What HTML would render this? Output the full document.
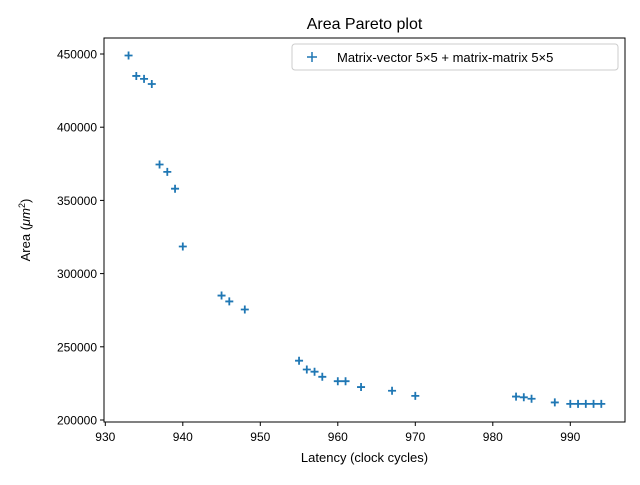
<!DOCTYPE html>
<html><head><meta charset="utf-8"><style>
body{margin:0;background:#fff;}
svg{font-family:"Liberation Sans","DejaVu Sans",sans-serif;}
</style></head><body>
<svg id="chart" width="640" height="480">
<rect x="0" y="0" width="640" height="480" fill="#fff"/>
<text x="364.5" y="29" font-size="16" text-anchor="middle">Area Pareto plot</text>
<g id="ticks"></g>
<g id="marks"></g>
<rect x="104" y="38" width="521" height="384" fill="none" stroke="#000" stroke-width="1"/>
<text x="364.5" y="462" font-size="13" text-anchor="middle">Latency (clock cycles)</text>
<text transform="translate(30,230) rotate(-90)" font-size="13" text-anchor="middle">Area (<tspan font-style="italic">μm</tspan><tspan baseline-shift="super" font-size="9">2</tspan>)</text>
<g>
<rect x="292" y="44" width="326" height="26" fill="#fff" stroke="#ccc" rx="3"/>
<path d="M307 57h10M312 52v10" stroke="#1f77b4" stroke-width="1.5"/>
<text x="337" y="62" font-size="13">Matrix-vector 5×5 + matrix-matrix 5×5</text>
</g>
</svg>
<script>
const latency=[933,934,935,936,937,938,939,940,945,946,948,955,956,957,958,960,961,963,967,970,983,984,985,988,990,991,992,993,994];
const area=[449000,435000,433000,429500,374500,369500,358000,318500,285000,281000,275500,240500,234500,233000,229500,226500,226500,222500,220000,216500,216000,215500,214500,212000,211000,211000,211000,211000,211000];
const xTicks=[930,940,950,960,970,980,990];
const yTicks=[200000,250000,300000,350000,400000,450000];
const NS="http://www.w3.org/2000/svg";
function xs(v){return 105.3+(v-930)*7.75;}
function ys(v){return 420-(v-200000)*366/250000;}
const tg=document.getElementById('ticks');
xTicks.forEach(t=>{
 const l=document.createElementNS(NS,'line');
 l.setAttribute('x1',xs(t));l.setAttribute('x2',xs(t));l.setAttribute('y1',422);l.setAttribute('y2',426);l.setAttribute('stroke','#000');
 
 
 tg.appendChild(l);
 const tx=document.createElementNS(NS,'text');
 tx.setAttribute('x',xs(t));tx.setAttribute('y',441);tx.setAttribute('font-size','12');tx.setAttribute('text-anchor','middle');
 tx.textContent=t;
 
 
 tg.appendChild(tx);
});
yTicks.forEach(t=>{
 const l=document.createElementNS(NS,'line');
 l.setAttribute('x1',100);l.setAttribute('x2',104);l.setAttribute('y1',ys(t));l.setAttribute('y2',ys(t));l.setAttribute('stroke','#000');
 
 
 tg.appendChild(l);
 const tx=document.createElementNS(NS,'text');
 tx.setAttribute('x',97);tx.setAttribute('y',ys(t)+4.5);tx.setAttribute('font-size','12');tx.setAttribute('text-anchor','end');
 tx.textContent=t;
 
 
 tg.appendChild(tx);
});
const mg=document.getElementById('marks');
latency.forEach((v,i)=>{
 const x=xs(v),y=ys(area[i]);
 const p=document.createElementNS(NS,'path');
 p.setAttribute('d',`M${x-4} ${y}h8M${x} ${y-4}v8`);
 p.setAttribute('stroke','#1f77b4');p.setAttribute('stroke-width','1.8');
 
 
 mg.appendChild(p);
});
</script>
</body></html>
